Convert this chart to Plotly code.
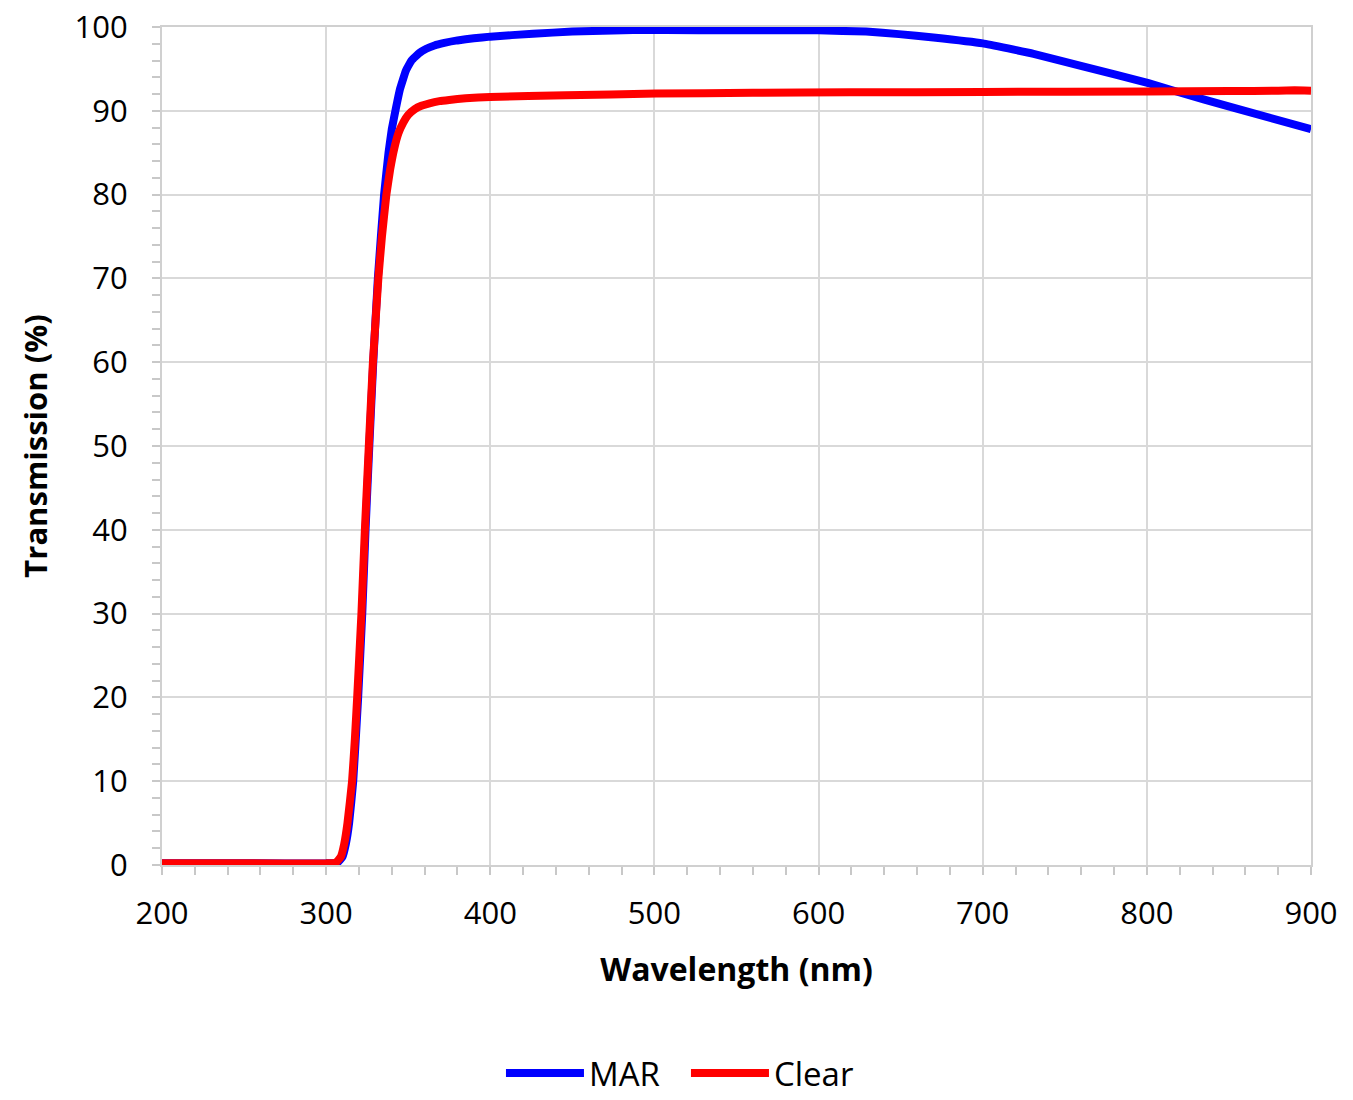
import plotly.graph_objects as go

# ---- data ----
clear_wl = [200, 250, 300, 306, 309, 311, 313, 315.8, 317.5, 318.9, 321.5, 323.6, 326, 328.5,
            331.8, 334, 336.7, 339, 341.5, 344, 347, 350, 354, 358, 363, 369, 375, 385, 400,
            446, 501, 560, 619, 700, 801, 850, 880, 890, 900]
clear_t = [0.2, 0.2, 0.2, 0.3, 1.0, 2.5, 5, 10, 15, 20, 30, 40, 50, 60,
           70, 75, 80, 83, 85.5, 87.3, 88.6, 89.5, 90.2, 90.6, 90.9, 91.15, 91.3, 91.5, 91.65,
           91.85, 92.05, 92.15, 92.2, 92.25, 92.3, 92.35, 92.4, 92.45, 92.4]

mar_wl = [200, 250, 300, 307, 310, 312, 314, 316.5, 319.5, 322, 324, 326.3, 328.7, 331.5,
          335.3, 338, 340, 342.5, 345, 348.6, 352, 356.8, 361, 366, 372, 380, 390, 400, 426,
          450, 487, 527, 568, 600, 629, 649, 670, 700, 731, 761, 801, 818, 852, 900]
mar_t = [0.2, 0.2, 0.2, 0.3, 1.0, 2.5, 5, 10, 20, 30, 40, 50, 60, 70,
         80, 85, 87.8, 90.3, 92.6, 94.8, 96.0, 96.9, 97.4, 97.8, 98.1, 98.4, 98.65, 98.85, 99.2,
         99.45, 99.65, 99.6, 99.6, 99.6, 99.45, 99.15, 98.75, 98.05, 96.8, 95.3, 93.3, 92.3, 90.4, 87.8]

series_names = ["MAR", "Clear"]
series_colors = ["#0000ff", "#ff0000"]

x_ticks = [200, 300, 400, 500, 600, 700, 800, 900]
y_ticks = [0, 10, 20, 30, 40, 50, 60, 70, 80, 90, 100]

FONT = "Open Sans"

fig = go.Figure()
fig.add_trace(go.Scatter(x=mar_wl, y=mar_t, mode="lines", name=series_names[0],
                         line=dict(color=series_colors[0], width=8, shape="spline", smoothing=0.3)))
fig.add_trace(go.Scatter(x=clear_wl, y=clear_t, mode="lines", name=series_names[1],
                         line=dict(color=series_colors[1], width=8, shape="spline", smoothing=0.3)))

axis_common = dict(
    showgrid=True, gridcolor="#d9d9d9", gridwidth=2,
    showline=True, linecolor="#d0d0d0", linewidth=2, mirror=True,
    ticks="outside", ticklen=8, tickwidth=2, tickcolor="#c8c8c8",
    tickfont=dict(family=FONT, size=31, color="black"),
    zeroline=False, automargin=False,
)

fig.update_xaxes(
    range=[200, 900], tickvals=x_ticks,
    minor=dict(dtick=20, ticks="outside", ticklen=8, tickwidth=2, tickcolor="#c8c8c8", showgrid=False),
    title=dict(text="<b>Wavelength (nm)</b>", font=dict(family=FONT, size=32, color="black"), standoff=26),
    ticklabelstandoff=12,
    **axis_common,
)
fig.update_yaxes(
    range=[0, 100], tickvals=y_ticks,
    minor=dict(dtick=2, ticks="outside", ticklen=8, tickwidth=2, tickcolor="#c8c8c8", showgrid=False),
    title=dict(text="<b>Transmission (%)</b>", font=dict(family=FONT, size=31, color="black"), standoff=18),
    ticklabelstandoff=18,
    **axis_common,
)

fig.update_layout(
    width=1353, height=1100,
    margin=dict(l=162, r=42, t=27, b=235),
    paper_bgcolor="white", plot_bgcolor="white",
    font=dict(family=FONT, size=31, color="black"),
    showlegend=True,
    legend=dict(orientation="h", x=0.507, xref="container", xanchor="center",
                y=0.0245, yref="container", yanchor="middle",
                font=dict(family=FONT, size=33, color="black"), itemwidth=78,
                entrywidth=92),
)

fig.write_html("out.html")
